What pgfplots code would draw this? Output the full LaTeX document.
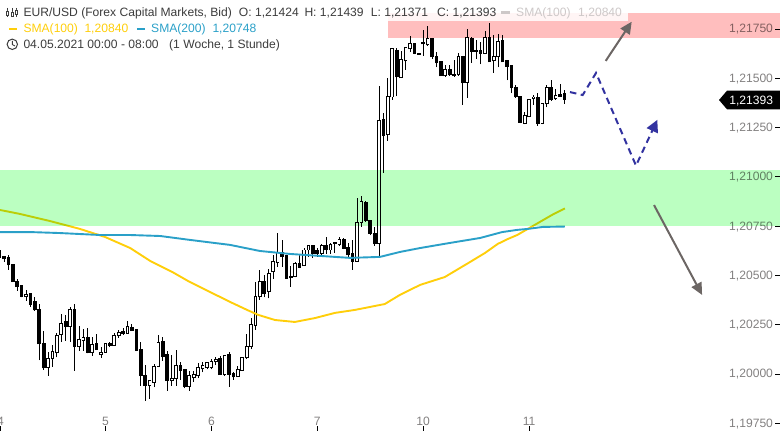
\documentclass[border=0pt]{standalone}
\usepackage{fontspec}
\setmainfont{Liberation Sans}
\usepackage{pgfplots}
\usepackage{pgfplotstable}
\pgfplotsset{compat=1.18}
\usetikzlibrary{arrows.meta}

\definecolor{zonegreen}{RGB}{187,255,193}
\definecolor{zonepink}{RGB}{255,190,190}
\definecolor{smayellow}{RGB}{255,206,10}
\definecolor{smablue}{RGB}{42,160,200}
\definecolor{tickgray}{RGB}{130,128,128}
\definecolor{headgray}{RGB}{60,60,60}
\definecolor{ghost}{RGB}{205,200,200}
\definecolor{arrowgray}{RGB}{108,102,100}
\definecolor{projblue}{RGB}{50,50,160}

% hourly candles, x = hours since the 4th (weekend left out)
\pgfplotstableread{
x o h l c
0 1.20626 1.20629 1.20587 1.20592
1 1.20595 1.20600 1.20570 1.20584
2 1.20589 1.20604 1.20528 1.20553
3 1.20558 1.20558 1.20469 1.20469
4 1.20470 1.20481 1.20423 1.20443
5 1.20447 1.20452 1.20389 1.20392
7 1.20406 1.20406 1.20342 1.20355
8 1.20367 1.20392 1.20321 1.20325
9 1.20329 1.20355 1.20071 1.20153
10 1.20156 1.20220 1.20021 1.20031
15 1.20264 1.20300 1.20168 1.20240
17 1.20329 1.20355 1.20017 1.20139
20 1.20187 1.20232 1.20105 1.20109
22 1.20153 1.20203 1.20122 1.20124
25 1.20156 1.20164 1.20136 1.20146
28 1.20217 1.20232 1.20200 1.20205
30 1.20237 1.20254 1.20220 1.20220
31 1.20224 1.20224 1.20119 1.20119
32 1.20122 1.20163 1.19941 1.19992
33 1.19995 1.20046 1.19865 1.19941
37 1.20166 1.20187 1.20068 1.20088
38 1.20097 1.20116 1.19916 1.19966
41 1.20041 1.20063 1.19970 1.20017
42 1.20021 1.20026 1.19928 1.19936
50 1.20077 1.20092 1.19997 1.19997
52 1.20097 1.20114 1.19936 1.20000
53 1.20002 1.20012 1.19970 1.19985
60 1.20467 1.20502 1.20389 1.20410
64 1.20616 1.20680 1.20545 1.20595
65 1.20599 1.20604 1.20484 1.20486
66 1.20494 1.20548 1.20443 1.20489
68 1.20562 1.20604 1.20537 1.20542
71 1.20650 1.20655 1.20590 1.20612
72 1.20629 1.20638 1.20595 1.20612
74 1.20653 1.20694 1.20609 1.20629
76 1.20666 1.20671 1.20616 1.20663
78 1.20680 1.20689 1.20634 1.20638
79 1.20643 1.20663 1.20595 1.20604
80 1.20609 1.20680 1.20528 1.20573
83 1.20871 1.20879 1.20773 1.20778
84 1.20778 1.20778 1.20705 1.20714
85 1.20714 1.20747 1.20650 1.20660
87 1.21289 1.21324 1.21021 1.21209
90 1.21643 1.21654 1.21410 1.21507
94 1.21674 1.21679 1.21623 1.21628
95 1.21628 1.21628 1.21623 1.21623
96 1.21679 1.21745 1.21613 1.21674
98 1.21704 1.21704 1.21598 1.21608
99 1.21608 1.21633 1.21557 1.21578
100 1.21583 1.21583 1.21512 1.21512
102 1.21547 1.21567 1.21512 1.21517
103 1.21517 1.21593 1.21507 1.21512
105 1.21608 1.21608 1.21365 1.21476
107 1.21704 1.21709 1.21578 1.21638
108 1.21643 1.21694 1.21598 1.21638
109 1.21643 1.21684 1.21572 1.21628
111 1.21709 1.21780 1.21583 1.21583
114 1.21694 1.21720 1.21583 1.21583
115 1.21588 1.21593 1.21491 1.21562
116 1.21567 1.21567 1.21425 1.21451
117 1.21451 1.21466 1.21400 1.21405
118 1.21410 1.21410 1.21273 1.21278
122 1.21405 1.21425 1.21258 1.21273
125 1.21451 1.21491 1.21385 1.21390
127 1.21420 1.21471 1.21410 1.21410
128 1.21424 1.21439 1.21371 1.21393
}\blackcandles

\pgfplotstableread{
x o h l c
6 1.20392 1.20426 1.20372 1.20405
11 1.20032 1.20110 1.19992 1.20080
12 1.20078 1.20146 1.20037 1.20116
13 1.20109 1.20210 1.20085 1.20197
14 1.20200 1.20305 1.20164 1.20257
16 1.20240 1.20339 1.20164 1.20325
18 1.20139 1.20244 1.20117 1.20173
19 1.20169 1.20227 1.20119 1.20187
21 1.20109 1.20190 1.20093 1.20151
23 1.20098 1.20136 1.20082 1.20110
24 1.20110 1.20156 1.20109 1.20156
26 1.20144 1.20207 1.20143 1.20197
27 1.20195 1.20224 1.20183 1.20212
29 1.20207 1.20268 1.20203 1.20242
34 1.19941 1.19970 1.19875 1.19965
35 1.19958 1.20051 1.19933 1.20036
36 1.20037 1.20198 1.20037 1.20161
39 1.19966 1.20097 1.19941 1.19979
40 1.19977 1.20122 1.19941 1.20041
43 1.19936 1.20017 1.19916 1.19990
44 1.19982 1.20017 1.19961 1.19999
45 1.19990 1.20058 1.19979 1.20031
46 1.20026 1.20063 1.20009 1.20041
47 1.20032 1.20063 1.20024 1.20056
48 1.20031 1.20075 1.20024 1.20061
49 1.20063 1.20088 1.20046 1.20075
51 1.19997 1.20097 1.19990 1.20095
54 1.19987 1.20041 1.19987 1.20024
55 1.20019 1.20085 1.20017 1.20082
56 1.20082 1.20203 1.20078 1.20141
57 1.20139 1.20283 1.20126 1.20252
58 1.20245 1.20466 1.20224 1.20394
59 1.20391 1.20528 1.20376 1.20467
61 1.20418 1.20531 1.20384 1.20511
62 1.20518 1.20604 1.20484 1.20572
63 1.20565 1.20714 1.20545 1.20616
67 1.20494 1.20570 1.20491 1.20562
69 1.20548 1.20641 1.20548 1.20629
70 1.20629 1.20655 1.20595 1.20650
73 1.20612 1.20660 1.20604 1.20653
75 1.20629 1.20663 1.20609 1.20658
77 1.20655 1.20694 1.20651 1.20680
81 1.20573 1.20891 1.20570 1.20770
82 1.20768 1.20903 1.20747 1.20874
86 1.20663 1.21461 1.20589 1.21288
88 1.21216 1.21501 1.21184 1.21407
89 1.21405 1.21649 1.21390 1.21649
91 1.21502 1.21638 1.21502 1.21593
92 1.21588 1.21654 1.21542 1.21654
93 1.21649 1.21714 1.21633 1.21674
97 1.21669 1.21765 1.21666 1.21704
101 1.21512 1.21567 1.21507 1.21547
104 1.21517 1.21628 1.21512 1.21608
106 1.21481 1.21750 1.21400 1.21709
110 1.21628 1.21740 1.21623 1.21709
112 1.21588 1.21720 1.21527 1.21608
113 1.21608 1.21725 1.21557 1.21689
119 1.21273 1.21329 1.21268 1.21309
120 1.21304 1.21395 1.21304 1.21390
121 1.21395 1.21415 1.21365 1.21405
123 1.21273 1.21375 1.21268 1.21370
124 1.21370 1.21466 1.21354 1.21451
126 1.21395 1.21446 1.21390 1.21415
}\whitecandles

\pgfplotstableread{
x y
0.1 1.20832
4.6 1.20812
11.4 1.20776
18.2 1.20736
23.9 1.20695
29.6 1.20639
34.1 1.20574
39.1 1.20518
42.7 1.20472
47.7 1.20416
52.2 1.20366
56.1 1.20325
58.6 1.20300
62.4 1.20274
66.9 1.20264
71.5 1.20284
76.0 1.20310
80.5 1.20325
87.3 1.20355
90.7 1.20401
95.3 1.20452
100.9 1.20492
106.6 1.20568
110.0 1.20614
112.9 1.20660
115.2 1.20685
117.3 1.20705
119.7 1.20736
125.2 1.20807
128.1 1.20840
}\smahundred

\pgfplotstableread{
x y
0.1 1.20720
6.9 1.20720
13.7 1.20715
22.8 1.20705
29.6 1.20705
36.4 1.20700
43.2 1.20680
52.2 1.20655
59.0 1.20624
65.8 1.20609
72.6 1.20599
79.4 1.20589
86.2 1.20594
90.7 1.20619
95.3 1.20639
102.1 1.20665
108.9 1.20690
113.9 1.20720
117.3 1.20731
119.7 1.20736
123.1 1.20746
128.1 1.20748
}\smatwohundred

\begin{document}
\begin{tikzpicture}
\path[use as bounding box] (0,0) rectangle (780pt,431pt);
\clip (0,0) rectangle (780pt,431pt);
\begin{axis}[
    scale only axis,
    width=780pt, height=431pt,
    xmin=0.1, xmax=176.85,
    ymin=1.19711, ymax=1.21897,
    axis line style={draw=none},
    clip=true,
    xtick={0.2,24,48,72,96,120},
    xticklabels={4,5,6,7,10,11},
    ytick={1.1975,1.2,1.2025,1.205,1.2075,1.21,1.2125,1.215,1.2175},
    yticklabels={{1,19750},{1,20000},{1,20250},{1,20500},{1,20750},{1,21000},{1,21250},{1,21500},{1,21750}},
    xtick pos=bottom, ytick pos=right,
    yticklabel pos=right,
    tick align=inside,
    major tick length=5pt,
    tick style={black, line width=0.8pt},
    tick label style={font=\fontsize{12.1}{14}\selectfont, text=tickgray},
    yticklabel style={anchor=east, xshift=-3.5pt, yshift=-0.5pt},
    xticklabel style={anchor=south, yshift=2pt},
    candle/.style={only marks, no markers, mark size=0pt, mark options={draw=none, fill=none}, forget plot,
        error bars/y dir=plus, error bars/y explicit, error bars/error mark=none,
        error bars/error bar style={line width=#1, line cap=butt, solid}},
]
% wicks
\addplot[black, candle=0.9pt] table[x=x, y=l, y error plus expr=\thisrow{h}-\thisrow{l}] {\blackcandles};
\addplot[black, candle=0.9pt] table[x=x, y=l, y error plus expr=\thisrow{h}-\thisrow{l}] {\whitecandles};
% bodies, white ones hollowed out with a thinner white bar
\addplot[black, candle=3.7pt] table[x=x, y expr=\thisrow{c}-0.000025, y error plus expr=\thisrow{o}-\thisrow{c}+0.00005] {\blackcandles};
\addplot[black, candle=3.7pt] table[x=x, y expr=\thisrow{o}-0.000025, y error plus expr=\thisrow{c}-\thisrow{o}+0.00005] {\whitecandles};
\addplot[white, candle=1.9pt] table[x=x, y expr=\thisrow{o}+0.000025, y error plus expr=\thisrow{c}-\thisrow{o}-0.00005] {\whitecandles};
% moving averages
\addplot[smayellow, line width=1.9pt, line join=round] table[x=x, y=y] {\smahundred};
\addplot[smablue, line width=1.9pt, line join=round] table[x=x, y=y] {\smatwohundred};
% zones lie over the candles
\addplot[fill=zonegreen, draw=none, blend mode=multiply] coordinates {(0.1,1.20750) (176.85,1.20750) (176.85,1.21035) (0.1,1.21035)};
\addplot[fill=zonepink, draw=none, blend mode=multiply] coordinates {(88.1,1.21704) (176.85,1.21704) (176.85,1.21831) (88.1,1.21831)};
% drawn scenario
\addplot[projblue, line width=2pt, dash pattern=on 6.5pt off 4.5pt, -{Triangle[width=12pt,length=12pt]}] coordinates {(129.26,1.21430) (132.14,1.21415) (135.16,1.21527) (144.22,1.21057) (149.05,1.21289)};
\addplot[arrowgray, line width=2pt, -{Triangle[width=11pt,length=12pt]}] coordinates {(137.35,1.21588) (143.25,1.21787)};
\addplot[arrowgray, line width=2pt, -{Triangle[width=11pt,length=12pt]}] coordinates {(148.3,1.20857) (159.2,1.20401)};
\end{axis}
% header and price tag, in pixels from the top left
\begin{scope}[x=1pt, y=-1pt, shift={(0,431pt)}, every node/.style={font=\fontsize{12.1}{14}\selectfont, inner sep=0pt, anchor=base west}]
\fill[white, opacity=0.85] (0,0) rectangle (628,21);
\node[headgray] at (23.3,17) {EUR/USD (Forex Capital Markets, Bid)};
\node[headgray] at (238.7,17) {O: 1,21424};
\node[headgray] at (304.3,17) {H: 1,21439};
\node[headgray] at (370.7,17) {L: 1,21371};
\node[headgray] at (437,17) {C: 1,21393};
\fill[ghost] (501,11.5) rectangle (510,14);
\node[ghost] at (516,17) {SMA(100)};
\node[ghost] at (578,17) {1,20840};
\fill[smayellow] (9,28) rectangle (17,30);
\node[smayellow] at (23.3,33) {SMA(100)};
\node[smayellow] at (84.3,33) {1,20840};
\fill[smablue] (137,28) rectangle (145,30);
\node[smablue] at (151,33) {SMA(200)};
\node[smablue] at (212.3,33) {1,20748};
\node[headgray] at (23.3,49) {04.05.2021 00:00 - 08:00};
\node[headgray] at (169,49) {(1 Woche, 1 Stunde)};
% candle icon
\draw[headgray, line width=0.9pt] (7.5,8) -- (7.5,17.5) (12,8) -- (12,17.5) (16,8) -- (16,17.5);
\filldraw[fill=white, draw=headgray, line width=0.8pt] (6.5,11) rectangle (8.5,15) (11,12) rectangle (13,16) (15,10) rectangle (17,14);
% clock icon
\draw[headgray, line width=1pt] (12.3,44.3) circle (5.2);
\draw[headgray, line width=0.9pt] (12.3,41) -- (12.3,44.5) -- (15,46);
% last price tag
\fill[black] (719,100) -- (727,90.7) -- (780,90.7) -- (780,109.3) -- (727,109.3) -- cycle;
\node[white, anchor=base east] at (773.3,104.5) {1,21393};
\end{scope}
\end{tikzpicture}
\end{document}
